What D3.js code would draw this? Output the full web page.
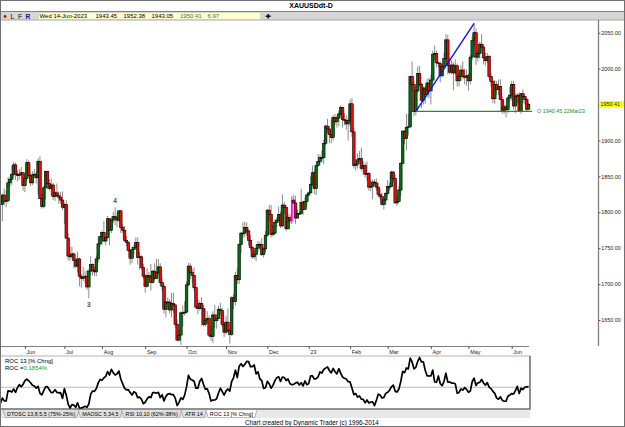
<!DOCTYPE html>
<html>
<head>
<meta charset="utf-8">
<script src="https://cdn.jsdelivr.net/npm/d3@7"></script>
<style>
  body { margin: 0; background: #fff; }
  svg { display: block; font-family: "Liberation Sans", Arial, sans-serif; }
</style>
</head>
<body>
<svg id="chart" width="625" height="427"></svg>
<script>
// Trading days (weekdays, minus the two days missing from this feed)
const firstDay = "2022-05-13";
const lastDay = "2023-06-14";
const missingDays = ["2022-06-20", "2022-07-04"];

// 13 closes before the first bar, needed for ROC 13
const priorCloses = [1904, 1886, 1894, 1896, 1862, 1868, 1881, 1876, 1883, 1854, 1838, 1852, 1821];

const opens = [
  1821, 1811, 1824, 1815, 1816, 1841, 1846, 1853, 1866, 1853, 1851, 1853, 1855,
  1837, 1847, 1869, 1851, 1841, 1852, 1853, 1848, 1871, 1819, 1808, 1834, 1857, 1840, 1833, 1838, 1822, 1827, 1823, 1821, 1817,
  1807, 1811, 1764, 1739, 1739, 1742, 1733, 1725, 1735, 1711, 1708, 1709, 1711, 1696, 1718, 1727, 1719, 1717, 1735, 1756,
  1766, 1772, 1760, 1765, 1791, 1775, 1789, 1794, 1792, 1789, 1802, 1779, 1775, 1761, 1758, 1747, 1736, 1748, 1751, 1758, 1737, 1738, 1723,
  1711, 1697, 1712, 1710, 1702, 1718, 1708, 1716, 1724, 1702, 1697, 1665, 1675, 1675, 1664, 1673, 1671, 1644, 1622, 1629, 1660, 1660,
  1661, 1699, 1725, 1716, 1712, 1695, 1668, 1666, 1673, 1666, 1644, 1650, 1652, 1629, 1627, 1657, 1649, 1652, 1665, 1663, 1644,
  1633, 1647, 1635, 1630, 1681, 1676, 1712, 1706, 1755, 1771, 1771, 1779, 1774, 1761, 1751, 1738, 1741, 1750, 1755, 1755, 1741, 1749,
  1768, 1803, 1797, 1769, 1771, 1786, 1789, 1797, 1781, 1810, 1807, 1777, 1793, 1788, 1817, 1813, 1792, 1798, 1798, 1814, 1804, 1815,
  1824, 1827, 1839, 1855, 1833, 1865, 1871, 1876, 1876, 1896, 1920, 1916, 1908, 1904, 1932, 1926, 1931, 1937, 1946, 1929, 1928, 1923,
  1928, 1951, 1912, 1865, 1867, 1873, 1875, 1861, 1865, 1853, 1854, 1835, 1836, 1842, 1841, 1835, 1825, 1822, 1811, 1817,
  1826, 1836, 1836, 1856, 1847, 1813, 1815, 1831, 1868, 1913, 1903, 1918, 1919, 1989, 1978, 1940.45, 1969, 1993, 1978, 1956, 1973, 1964, 1980,
  1969, 1984, 2020, 2021, 2008, 2007, 1990, 2003, 2014, 2040, 2004, 1995, 2005, 1994, 2004, 1983, 1989, 1998, 1989, 1988,
  1990, 1983, 2016, 2039, 2050, 2016, 2021, 2034, 2030, 2015, 2011, 2017, 1989, 1982, 1958, 1978, 1971, 1975, 1957, 1941, 1946.8, 1943, 1959,
  1963, 1978, 1948, 1961, 1963, 1940, 1965, 1961, 1957, 1943.45
];
const highs = [
  1826, 1826, 1833, 1830, 1849, 1850, 1865, 1870, 1869, 1858, 1860, 1863, 1856,
  1853, 1874, 1872, 1855, 1857, 1860, 1857, 1875, 1878, 1826, 1837, 1858, 1858, 1846, 1847, 1841, 1830, 1840, 1829, 1828, 1829,
  1813, 1817, 1771, 1752, 1752, 1744, 1736, 1745, 1737, 1714, 1724, 1718, 1720, 1721, 1739, 1729, 1724, 1740, 1766, 1767,
  1774, 1788, 1767, 1795, 1792, 1791, 1801, 1807, 1800, 1802, 1803, 1783, 1781, 1767, 1760, 1748, 1752, 1755, 1765, 1765, 1745, 1740, 1728,
  1714, 1722, 1717, 1728, 1720, 1729, 1735, 1735, 1729, 1709, 1699, 1677, 1681, 1679, 1688, 1688, 1672, 1651, 1638, 1662, 1670, 1676,
  1704, 1730, 1729, 1721, 1723, 1697, 1679, 1677, 1682, 1671, 1665, 1662, 1656, 1641, 1662, 1671, 1658, 1670, 1674, 1667, 1647,
  1656, 1666, 1638, 1683, 1686, 1717, 1722, 1757, 1773, 1786, 1787, 1786, 1776, 1768, 1753, 1746, 1755, 1760, 1759, 1764, 1751, 1774,
  1804, 1810, 1810, 1782, 1790, 1793, 1808, 1801, 1825, 1814, 1810, 1799, 1797, 1822, 1824, 1823, 1804, 1801, 1833, 1816, 1821, 1826,
  1829, 1850, 1865, 1859, 1870, 1881, 1880, 1886, 1901, 1922, 1930, 1920, 1929, 1935, 1937, 1935, 1942, 1949, 1947, 1938, 1935, 1931,
  1957, 1959, 1918, 1874, 1882, 1885, 1890, 1871, 1869, 1871, 1856, 1845, 1845, 1846, 1847, 1841, 1832, 1827, 1820, 1828,
  1845, 1841, 1858, 1858, 1852, 1822, 1837, 1870, 1914, 1914, 1937, 1937, 1990, 2010, 1983, 1975, 2003, 2004, 1980, 1975, 1976, 1986, 1987,
  1991, 2025, 2032, 2025, 2010, 2010, 2006, 2022, 2048, 2047, 2015, 2012, 2009, 2013, 2007, 1994, 2005, 2010, 2000, 1999,
  1993, 2019, 2045, 2063, 2056, 2026, 2037, 2048, 2034, 2022, 2022, 2019, 1994, 1985, 1984, 1983, 1985, 1985, 1961, 1950, 1950, 1962, 1975,
  1983, 1983, 1965, 1966, 1967, 1966, 1971, 1962, 1960, 1952.38
];
const lows = [
  1798, 1787, 1810, 1807, 1813, 1835, 1838, 1850, 1845, 1843, 1845, 1851, 1830,
  1828, 1843, 1850, 1836, 1838, 1848, 1840, 1825, 1818, 1805, 1806, 1818, 1832, 1830, 1823, 1817, 1816, 1821, 1812, 1812, 1803,
  1784, 1764, 1733, 1732, 1735, 1722, 1722, 1716, 1697, 1695, 1704, 1701, 1692, 1680, 1713, 1712, 1711, 1711, 1730, 1752,
  1754, 1758, 1754, 1763, 1754, 1771, 1785, 1782, 1779, 1787, 1771, 1771, 1759, 1753, 1745, 1727, 1729, 1742, 1749, 1727, 1720, 1720, 1707,
  1688, 1695, 1706, 1691, 1701, 1705, 1707, 1713, 1697, 1690, 1659, 1654, 1664, 1659, 1654, 1660, 1639, 1621, 1620, 1615, 1641, 1656,
  1659, 1697, 1707, 1703, 1690, 1665, 1658, 1663, 1642, 1641, 1641, 1645, 1626, 1621, 1618, 1639, 1638, 1651, 1658, 1640, 1626,
  1630, 1633, 1617, 1628, 1665, 1670, 1700, 1700, 1743, 1765, 1765, 1767, 1754, 1747, 1735, 1735, 1732, 1745, 1747, 1739, 1737, 1744,
  1766, 1787, 1765, 1766, 1769, 1779, 1786, 1778, 1779, 1798, 1774, 1776, 1784, 1784, 1811, 1784, 1791, 1797, 1797, 1796, 1803, 1808,
  1822, 1827, 1836, 1825, 1824, 1863, 1866, 1869, 1867, 1893, 1910, 1896, 1896, 1900, 1922, 1918, 1920, 1934, 1918, 1921, 1915, 1900,
  1920, 1905, 1861, 1858, 1861, 1868, 1857, 1852, 1848, 1844, 1830, 1829, 1818, 1837, 1830, 1821, 1818, 1809, 1804, 1810,
  1823, 1830, 1835, 1843, 1812, 1809, 1814, 1823, 1867, 1895, 1886, 1907, 1917, 1969, 1934, 1935, 1966, 1975, 1945, 1950, 1951, 1960, 1959,
  1950, 1979, 2011, 2002, 2002, 1981, 1988, 2001, 2011, 1992, 1992, 1992, 1970, 1992, 1975, 1975, 1983, 1985, 1978, 1976,
  1969, 1978, 2012, 2030, 2005, 2010, 2014, 2022, 2006, 2004, 2008, 1986, 1975, 1952, 1951, 1964, 1963, 1956, 1937, 1937, 1932, 1938, 1954,
  1956, 1943, 1938, 1952, 1940, 1937, 1952, 1950, 1940, 1943.05
];
const closes = [
  1811, 1824, 1815, 1816, 1841, 1846, 1853, 1866, 1853, 1851, 1853, 1855, 1837,
  1847, 1869, 1851, 1841, 1852, 1853, 1848, 1871, 1819, 1808, 1834, 1857, 1840, 1833, 1838, 1822, 1827, 1823, 1821, 1817, 1807,
  1811, 1764, 1739, 1739, 1742, 1733, 1725, 1735, 1711, 1708, 1709, 1711, 1696, 1718, 1727, 1719, 1717, 1735, 1756, 1766,
  1772, 1760, 1765, 1791, 1775, 1789, 1794, 1792, 1789, 1802, 1779, 1775, 1761, 1758, 1747, 1736, 1748, 1751, 1758, 1737, 1738, 1723, 1711,
  1697, 1712, 1710, 1702, 1718, 1708, 1716, 1724, 1702, 1697, 1665, 1675, 1675, 1664, 1673, 1671, 1644, 1622, 1629, 1660, 1660, 1661,
  1699, 1725, 1716, 1712, 1695, 1668, 1666, 1673, 1666, 1644, 1650, 1652, 1629, 1627, 1657, 1649, 1652, 1665, 1663, 1644, 1633,
  1647, 1635, 1630, 1681, 1676, 1712, 1706, 1755, 1771, 1771, 1779, 1774, 1761, 1751, 1738, 1741, 1750, 1755, 1755, 1741, 1749, 1768,
  1803, 1797, 1769, 1771, 1786, 1789, 1797, 1781, 1810, 1807, 1777, 1793, 1788, 1817, 1813, 1792, 1798, 1798, 1814, 1804, 1815, 1824,
  1827, 1839, 1855, 1833, 1865, 1871, 1876, 1876, 1896, 1920, 1916, 1908, 1904, 1932, 1926, 1931, 1937, 1946, 1929, 1928, 1923, 1928,
  1951, 1912, 1865, 1867, 1873, 1875, 1861, 1865, 1853, 1854, 1835, 1836, 1842, 1841, 1835, 1825, 1822, 1811, 1817, 1826,
  1836, 1836, 1856, 1847, 1813, 1815, 1831, 1868, 1913, 1903, 1918, 1919, 1989, 1978, 1940, 1969, 1993, 1978, 1956, 1973, 1964, 1980, 1969,
  1984, 2020, 2021, 2008, 2007, 1990, 2003, 2014, 2040, 2004, 1995, 2005, 1994, 2004, 1983, 1989, 1998, 1989, 1988, 1990,
  1983, 2016, 2039, 2050, 2016, 2021, 2034, 2030, 2015, 2011, 2017, 1989, 1982, 1958, 1978, 1971, 1975, 1957, 1941, 1946.8, 1943, 1959, 1963,
  1978, 1948, 1961, 1963, 1940, 1965, 1961, 1957, 1943.44, 1950.41
];

const monthLabels = ["Jun", "Jul", "Aug", "Sep", "Oct", "Nov", "Dec", "23", "Feb", "Mar", "Apr", "May", "Jun"];
const priceTicks = [1650, 1700, 1750, 1800, 1850, 1900, 1950, 2000, 2050];
const markedDay = "2022-12-20";
const waveLabels = [
  { day: "2022-07-21", text: "3", side: "low" },
  { day: "2022-08-10", text: "4", side: "high" }
];
const trendFrom = "2023-03-22";   // from this bar's open
const trendTo = "2023-05-04";     // to this bar's high
const tabs = ["DTOSC 13,8,5,5 (75%-25%)", "MAOSC 5,34,5", "RSI 10,10 (62%-38%)", "ATR 14", "ROC 13 [% Chng]"];

// ---- build bars
const parse = d3.utcParse("%Y-%m-%d");
const key = d3.utcFormat("%Y-%m-%d");
const days = d3.utcDays(parse(firstDay), d3.utcDay.offset(parse(lastDay), 1))
  .filter(d => d.getUTCDay() % 6 !== 0 && !missingDays.includes(key(d)));

const bars = days.map((d, i) => ({ date: d, k: key(d), o: opens[i], h: highs[i], l: lows[i], c: closes[i] }));
const allCloses = priorCloses.concat(closes);
bars.forEach((b, i) => { b.roc = (b.c / allCloses[i] - 1) * 100; });
const byKey = new Map(bars.map(b => [b.k, b]));

const svg = d3.select("#chart");
const grey = "#808080";

// ---- scales
const x = d3.scalePoint().domain(bars.map(b => b.k)).range([0.5, 528.6]);
const y = d3.scaleLinear().domain([1650, 2050]).range([320, 32.7]);
const yRoc = d3.scaleLinear().domain(d3.extent(bars, b => b.roc)).range([408, 357.5]);

// ---- title + toolbar
svg.append("text").attr("x", 311).attr("y", 8.3).attr("text-anchor", "middle")
  .attr("font-size", 7).attr("font-weight", "bold").text("XAUUSDdt-D");
svg.append("rect").attr("x", 0).attr("y", 11.5).attr("width", 625).attr("height", 8.5).attr("fill", "#d6d6d6");
svg.append("line").attr("x1", 0).attr("x2", 625).attr("y1", 11.5).attr("y2", 11.5).attr("stroke", grey);
svg.append("line").attr("x1", 0).attr("x2", 625).attr("y1", 20).attr("y2", 20).attr("stroke", "#a8a8a8");

svg.append("circle").attr("cx", 5).attr("cy", 16.5).attr("r", 1.4).attr("fill", "#e00000");
[["L", 10.5, "#8a3a00"], ["F", 18, "#505068"], ["R", 25.5, "#1a1a90"]].forEach(([t, tx, col]) => {
  svg.append("text").attr("x", tx).attr("y", 18.8).attr("font-size", 6.6).attr("font-weight", "bold")
    .attr("fill", col).text(t);
});
svg.append("rect").attr("x", 38.5).attr("y", 12.5).attr("width", 222).attr("height", 6.8)
  .attr("fill", "#ffffd2").attr("stroke", "#c8c8b0").attr("stroke-width", 0.5);

const last = bars[bars.length - 1];
const prev = bars[bars.length - 2];
const f2 = d3.format(".2f");
const infoBar = [
  [d3.utcFormat("%a %d-%b-%Y")(last.date), 39.5, "#000"],
  [f2(last.o), 95.5, "#000"],
  [f2(last.h), 123.5, "#000"],
  [f2(last.l), 151.5, "#000"],
  [f2(last.c), 180, "#1a8a1a"],
  [f2(last.c - prev.c), 207.5, "#1a8a1a"]
];
infoBar.forEach(([t, tx, col]) => {
  svg.append("text").attr("x", tx).attr("y", 18.3).attr("font-size", 6).attr("fill", col).text(t);
});
svg.append("path").attr("d", "M265.8,16.3H270.6M268.2,14V18.6").attr("stroke", "#000").attr("stroke-width", 1.4);

// ---- price panel
svg.append("clipPath").attr("id", "plot").append("rect")
  .attr("x", 0).attr("y", 20.5).attr("width", 598).attr("height", 325.5);
const plot = svg.append("g").attr("clip-path", "url(#plot)");

plot.selectAll(".wick").data(bars).join("line")
  .attr("x1", b => x(b.k)).attr("x2", b => x(b.k))
  .attr("y1", b => y(b.h)).attr("y2", b => y(b.l))
  .attr("stroke", b => b.k === markedDay ? "#ff00ff" : "#8c8c8c").attr("stroke-width", 1);

const bw = 2.6;
plot.selectAll(".body").data(bars).join("rect")
  .attr("x", b => x(b.k) - (b.k === markedDay ? 0.9 : bw / 2))
  .attr("width", b => b.k === markedDay ? 1.8 : bw)
  .attr("y", b => y(Math.max(b.o, b.c)))
  .attr("height", b => Math.max(0.8, Math.abs(y(b.o) - y(b.c))))
  .attr("fill", b => b.k === markedDay ? "#ff00ff" : (b.c >= b.o ? "#00700e" : "#ff0000"))
  .attr("stroke", b => b.k === markedDay ? "none" : "#000")
  .attr("stroke-width", 0.6);

// wave labels
waveLabels.forEach(w => {
  const b = byKey.get(w.day);
  svg.append("text").attr("x", x(b.k)).attr("y", w.side === "low" ? y(b.l) + 9 : y(b.h) - 4)
    .attr("text-anchor", "middle").attr("font-size", 6.5).attr("font-weight", "bold")
    .attr("fill", "#505050").text(w.text);
});

// trend line and open level
const tA = byKey.get(trendFrom), tB = byKey.get(trendTo);
plot.append("line").attr("x1", x(tA.k)).attr("y1", y(tA.o)).attr("x2", x(tB.k)).attr("y2", y(tB.h))
  .attr("stroke", "#1010ff").attr("stroke-width", 1.4);
svg.append("line").attr("x1", x(tA.k)).attr("x2", 532).attr("y1", y(tA.o)).attr("y2", y(tA.o))
  .attr("stroke", "#2a8a2a").attr("stroke-width", 1.4);
svg.append("text").attr("x", 537).attr("y", y(tA.o) + 1.9).attr("font-size", 5.4).attr("fill", "#2a8a2a")
  .text("O " + f2(tA.o) + " " + d3.utcFormat("%d%b%y")(tA.date));

// price axis
svg.append("line").attr("x1", 598.5).attr("x2", 598.5).attr("y1", 20).attr("y2", 346)
  .attr("stroke", grey).attr("stroke-width", 1.3);
const gy = svg.append("g").attr("transform", "translate(598.5,0)")
  .call(d3.axisRight(y).tickValues(priceTicks).tickFormat(f2).tickSize(2).tickSizeOuter(0).tickPadding(0.8));
gy.select(".domain").remove();
gy.selectAll(".tick line").attr("stroke", "#555");
gy.selectAll(".tick text").attr("font-size", 5.4).attr("font-family", "Liberation Sans, Arial, sans-serif").attr("fill", "#222");

svg.append("rect").attr("x", 599).attr("y", y(last.c) - 3.3).attr("width", 25).attr("height", 6.6).attr("fill", "#ffff00");
svg.append("text").attr("x", 600.5).attr("y", y(last.c) + 1.9).attr("font-size", 5.4).attr("fill", "#222").text(f2(last.c));

// date axis
const monthStarts = bars.filter((b, i) => i > 0 && b.date.getUTCMonth() !== bars[i - 1].date.getUTCMonth());
const gx = svg.append("g").attr("transform", "translate(0,346)")
  .call(d3.axisBottom(x).tickValues(monthStarts.map(b => b.k)).tickFormat((k, i) => monthLabels[i])
    .tickSize(3).tickSizeOuter(0));
gx.select(".domain").attr("stroke", grey);
gx.selectAll(".tick line").attr("stroke", "#555");
gx.selectAll(".tick text").attr("text-anchor", "start").attr("dx", 1.2).attr("y", 4.3)
  .attr("font-size", 5.4).attr("font-family", "Liberation Sans, Arial, sans-serif").attr("fill", "#222");

// ---- ROC panel
svg.append("rect").attr("x", 0.5).attr("y", 356).attr("width", 529.5).attr("height", 53)
  .attr("fill", "#fff").attr("stroke", "#a0a0a0").attr("stroke-width", 0.8);
svg.append("path").attr("d", "M0,409H530V356").attr("fill", "none").attr("stroke", "#7a7a7a").attr("stroke-width", 1.6);
svg.append("line").attr("x1", 0.5).attr("x2", 530).attr("y1", yRoc(0)).attr("y2", yRoc(0))
  .attr("stroke", "#a8a8a8").attr("stroke-width", 0.8);
svg.append("path").datum(bars)
  .attr("d", d3.line().x(b => x(b.k)).y(b => yRoc(b.roc)))
  .attr("fill", "none").attr("stroke", "#000").attr("stroke-width", 1.7).attr("stroke-linejoin", "round");

svg.append("text").attr("x", 5).attr("y", 363.3).attr("font-size", 6).text("ROC 13 [% Chng]");
const rocText = svg.append("text").attr("x", 5).attr("y", 369.6).attr("font-size", 6).text("ROC =");
rocText.append("tspan").attr("fill", "#1a9a1a").text(d3.format(".4f")(last.roc) + "%");

// ---- indicator tabs
svg.append("rect").attr("x", 0.5).attr("y", 410).attr("width", 529.5).attr("height", 8).attr("fill", "#e8e8e8");
let tx = 3;
tabs.forEach((t, i) => {
  const active = i === tabs.length - 1;
  const label = svg.append("text").attr("x", tx + 4).attr("y", 416.3).attr("font-size", 5.4).text(t);
  const w = label.node().getComputedTextLength();
  const x0 = tx, x1 = tx + w + 8;
  svg.insert("path", () => label.node())
    .attr("d", `M${x0},410L${x0 + 2.5},417.6H${x1 - 2.5}L${x1},410`)
    .attr("fill", active ? "#fff" : "#e0e0e0").attr("stroke", "#8a8a8a").attr("stroke-width", 0.6);
  tx = x1 - 1;
});

svg.append("text").attr("x", 245).attr("y", 424.6).attr("font-size", 6.3)
  .text("Chart created by Dynamic Trader  (c) 1996-2014");

// outer frame
svg.append("rect").attr("x", 0.5).attr("y", 0.5).attr("width", 624).attr("height", 426)
  .attr("fill", "none").attr("stroke", "#707070").attr("stroke-width", 1);
</script>
</body>
</html>
